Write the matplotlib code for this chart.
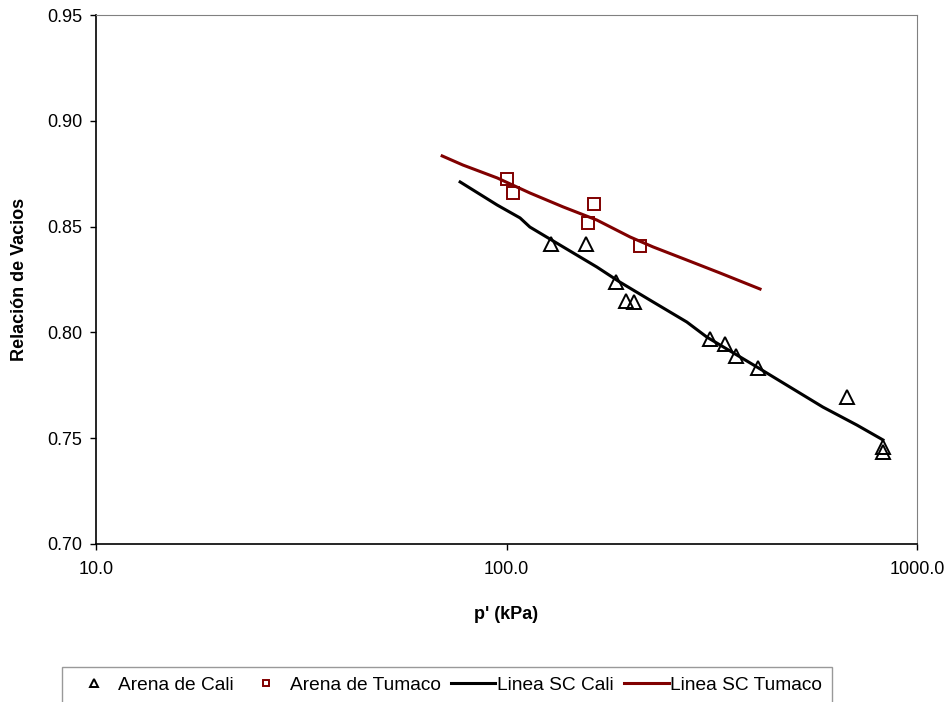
import matplotlib.pyplot as plt
from matplotlib.ticker import FixedLocator, NullLocator, FuncFormatter

plt.rcParams['font.family'] = ['Liberation Sans', 'DejaVu Sans']

# ensayos - arena de Cali
p_cali = [128, 156, 185, 195, 205, 313, 341, 363, 411, 676, 826, 826]
e_cali = [0.842, 0.842, 0.8236, 0.815, 0.8146, 0.7967, 0.7943, 0.7887, 0.783, 0.7693, 0.7458, 0.7434]

# ensayos - arena de Tumaco
p_tum = [100, 104, 158, 163, 212]
e_tum = [0.8726, 0.866, 0.8519, 0.8608, 0.8406]

# lineas de estado critico
p_sc_cali = [77.1, 94.9, 107.9, 114, 137.4, 166, 188.8, 227.5, 275, 307.6, 407, 490, 590, 714, 826]
e_sc_cali = [0.8711, 0.8602, 0.8541, 0.8498, 0.8404, 0.8309, 0.8238, 0.8144, 0.8049, 0.7978,
             0.7837, 0.7742, 0.7647, 0.7562, 0.7492]

p_sc_tum = [69.7, 78.3, 94.9, 114, 137.4, 166, 200, 227.5, 275, 331, 414.6]
e_sc_tum = [0.8834, 0.8791, 0.8730, 0.8659, 0.8593, 0.8531, 0.8451, 0.8404, 0.8342, 0.8281, 0.8205]

rojo = '#800000'

fig = plt.figure(figsize=(9.49, 7.02), dpi=100)
ax = fig.add_axes([96 / 949, 1 - 544 / 702, (917 - 96) / 949, (544 - 15) / 702])

ax.plot(p_cali, e_cali, linestyle='none', marker='^', markersize=10, markerfacecolor='none',
        markeredgecolor='black', markeredgewidth=1.4, label='Arena de Cali')
ax.plot(p_tum, e_tum, linestyle='none', marker='s', markersize=9, markerfacecolor='none',
        markeredgecolor=rojo, markeredgewidth=1.4, label='Arena de Tumaco')
ax.plot(p_sc_cali, e_sc_cali, color='black', linewidth=2.2, label='Linea SC Cali')
ax.plot(p_sc_tum, e_sc_tum, color=rojo, linewidth=2.2, label='Linea SC Tumaco')

ax.set_xscale('log')
ax.set_xlim(10, 1000)
ax.set_ylim(0.70, 0.95)
ax.xaxis.set_major_locator(FixedLocator([10, 100, 1000]))
ax.xaxis.set_minor_locator(NullLocator())
ax.xaxis.set_major_formatter(FuncFormatter(lambda v, pos: f'{v:.1f}'))
ax.set_yticks([0.70, 0.75, 0.80, 0.85, 0.90, 0.95])
ax.yaxis.set_major_formatter(FuncFormatter(lambda v, pos: f'{v:.2f}'))
ax.tick_params(direction='out', length=4.3, width=1, labelsize=13)
ax.tick_params(axis='x', pad=8)
ax.tick_params(axis='y', pad=5.5)

for s in ('top', 'right'):
    ax.spines[s].set_color('#808080')
for s in ('left', 'bottom'):
    ax.spines[s].set_color('black')
    ax.spines[s].set_linewidth(1.2)

ax.set_xlabel("p' (kPa)", fontsize=13, fontweight='bold', labelpad=20)
ax.set_ylabel('Relación de Vacios', fontsize=13, fontweight='bold', labelpad=14)

leg = fig.legend(loc='upper left', bbox_to_anchor=(62 / 949, 1 - 667 / 702), ncol=4,
                 fontsize=13.8, frameon=True, fancybox=False, edgecolor='#808080',
                 handlelength=2.3, handletextpad=0.1, columnspacing=0.55, markerscale=0.55,
                 borderpad=0.5, borderaxespad=0)
leg.get_frame().set_linewidth(1.0)

fig.savefig('out.png', dpi=100)
